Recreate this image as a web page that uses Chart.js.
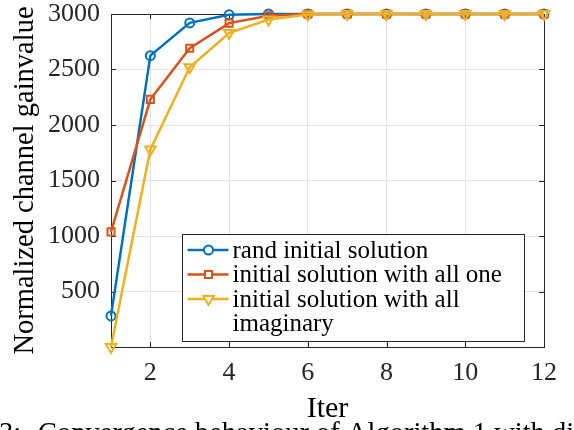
<!DOCTYPE html>
<html>
<head>
<meta charset="utf-8">
<script src="https://cdn.jsdelivr.net/npm/chart.js@4/dist/chart.umd.min.js"></script>
<style>
html,body{margin:0;padding:0;background:#fff;overflow:hidden;}
#wrap{position:relative;width:574px;height:430px;}
</style>
</head>
<body>
<div id="wrap"><canvas id="c" width="574" height="430"></canvas></div>
<script>
// ---- data ----
const iterations = [1,2,3,4,5,6,7,8,9,10,11,12];
const randInit   = [280, 2625, 2920, 2993, 3000, 3000, 3000, 3000, 3000, 3000, 3000, 3000];
const allOne     = [1037, 2231, 2691, 2918, 2985, 3000, 3000, 3000, 3000, 3000, 3000, 3000];
const allImag    = [0, 1780, 2520, 2829, 2950, 2995, 3000, 3000, 3000, 3000, 3000, 3000];
const seriesNames = ['rand initial solution', 'initial solution with all one', ['initial solution with all', 'imaginary']];
const xTickValues = [2,4,6,8,10,12];
const yTickValues = [500,1000,1500,2000,2500,3000];
const xTitle = 'Iter';
const yTitle = 'Normalized channel gainvalue';
const captionPrefix = '3:';
const captionText = 'Convergence behaviour of Algorithm 1 with different initial solutions';

const COLORS = ['#0072BD', '#D95319', '#EDB120'];
const STYLES = [
  {pointStyle:'circle', radius:4.5, rotation:0},
  {pointStyle:'rect', radius:5, rotation:0},
  {pointStyle:'triangle', radius:6, rotation:180}
];
const AXIS = '#262626';
const FONT = "'Liberation Serif', 'Times New Roman', serif";
Chart.defaults.font.family = FONT;

function pts(arr){ return iterations.map((x,i)=>({x:x, y:arr[i]})); }

function mkDataset(label, arr, idx, order){
  const c = COLORS[idx], s = STYLES[idx];
  return {
    label: Array.isArray(label) ? label.join(' ') : label,
    data: pts(arr),
    borderColor: c,
    backgroundColor: 'rgba(0,0,0,0)',
    borderWidth: 2.5,
    pointStyle: s.pointStyle,
    pointRadius: s.radius,
    pointRotation: s.rotation,
    pointBorderWidth: 2,
    pointBorderColor: c,
    pointBackgroundColor: 'rgba(0,0,0,0)',
    tension: 0,
    clip: false,
    order: order
  };
}

const boxAndTicks = {
  id: 'boxAndTicks',
  beforeDatasetsDraw(chart){
    const {ctx, chartArea:a, scales:{x, y}} = chart;
    ctx.save();
    ctx.strokeStyle = AXIS;
    ctx.lineWidth = 1;
    const L = 5;
    ctx.beginPath();
    xTickValues.forEach(v=>{
      const px = Math.round(x.getPixelForValue(v)) + 0.5;
      ctx.moveTo(px, a.bottom); ctx.lineTo(px, a.bottom - L);
      ctx.moveTo(px, a.top); ctx.lineTo(px, a.top + L);
    });
    yTickValues.forEach(v=>{
      const py = Math.round(y.getPixelForValue(v)) + 0.5;
      ctx.moveTo(a.left, py); ctx.lineTo(a.left + L, py);
      ctx.moveTo(a.right, py); ctx.lineTo(a.right - L, py);
    });
    ctx.stroke();
    ctx.beginPath();
    ctx.rect(Math.round(a.left)+0.5, Math.round(a.top)+0.5, Math.round(a.right - a.left), Math.round(a.bottom - a.top));
    ctx.stroke();
    ctx.restore();
  }
};

const customLegend = {
  id: 'customLegend',
  afterDraw(chart){
    const ctx = chart.ctx;
    const bx = 182.5, by = 234.5, bw = 342, bh = 107;
    ctx.save();
    ctx.fillStyle = '#ffffff';
    ctx.fillRect(bx, by, bw, bh);
    ctx.strokeStyle = AXIS;
    ctx.lineWidth = 1;
    ctx.strokeRect(bx, by, bw, bh);
    ctx.font = '25px ' + FONT;
    ctx.textBaseline = 'middle';
    ctx.textAlign = 'left';
    const rowH = 24.5;
    let row = 0;
    seriesNames.forEach((name, i)=>{
      const cy = by + 15.5 + row*rowH;
      ctx.strokeStyle = COLORS[i];
      ctx.lineWidth = 2.5;
      ctx.beginPath();
      ctx.moveTo(bx + 5, cy); ctx.lineTo(bx + 46, cy);
      ctx.stroke();
      ctx.lineWidth = 2;
      ctx.fillStyle = '#ffffff';
      Chart.helpers.drawPoint(ctx, {pointStyle: STYLES[i].pointStyle, rotation: STYLES[i].rotation, radius: STYLES[i].radius, borderWidth: 2}, bx + 26, cy);
      ctx.fillStyle = '#000000';
      const lines = Array.isArray(name) ? name : [name];
      lines.forEach((t, k)=>{
        ctx.fillText(t, bx + 50, cy + 1 + k*rowH);
      });
      row += lines.length;
    });
    // caption
    ctx.font = '28.5px ' + FONT;
    ctx.fillStyle = '#000000';
    ctx.textBaseline = 'alphabetic';
    ctx.fillText(captionPrefix, -1, 442);
    ctx.fillText(captionText, 38, 442);
    ctx.restore();
  }
};

new Chart(document.getElementById('c'), {
  type: 'line',
  data: {
    datasets: [
      mkDataset(seriesNames[0], randInit, 0, 3),
      mkDataset(seriesNames[1], allOne, 1, 2),
      mkDataset(seriesNames[2], allImag, 2, 1)
    ]
  },
  options: {
    responsive: false,
    animation: false,
    devicePixelRatio: 1,
    layout: { padding: { top: 14, right: 30, left: 0, bottom: 0 } },
    plugins: { legend: { display: false }, tooltip: { enabled: false } },
    scales: {
      x: {
        type: 'linear',
        min: 1, max: 12,
        afterBuildTicks(s){ s.ticks = xTickValues.map(v=>({value:v})); },
        afterFit(s){ s.height = 83; s.paddingLeft = 0; s.paddingRight = 0; s.paddingTop = 0; s.paddingBottom = 0; },
        grid: { color: '#e3e3e3', lineWidth: 1, drawTicks: false },
        border: { display: true, color: AXIS, width: 1 },
        ticks: { color: AXIS, font: { family: FONT, size: 26, lineHeight: 1 }, padding: 13, maxRotation: 0, callback: (v)=>String(v) },
        title: { display: true, text: xTitle, color: '#000000', font: { family: FONT, size: 30, lineHeight: 1.2 }, padding: { top: 0, bottom: 3 } }
      },
      y: {
        type: 'linear',
        min: 0, max: 3000,
        afterBuildTicks(s){ s.ticks = yTickValues.map(v=>({value:v})); },
        afterFit(s){ s.width = 111; s.paddingTop = 0; s.paddingBottom = 0; s.paddingLeft = 0; s.paddingRight = 0; },
        grid: { color: '#e3e3e3', lineWidth: 1, drawTicks: false },
        border: { display: true, color: AXIS, width: 1 },
        ticks: { color: AXIS, font: { family: FONT, size: 26, lineHeight: 1 }, padding: 11, callback: (v)=>String(v) },
        title: { display: true, text: yTitle, color: '#000000', font: { family: FONT, size: 28.5, lineHeight: 1.2 }, padding: { top: 8.4, bottom: 0 } }
      }
    }
  },
  plugins: [boxAndTicks, customLegend]
});
</script>
</body>
</html>
